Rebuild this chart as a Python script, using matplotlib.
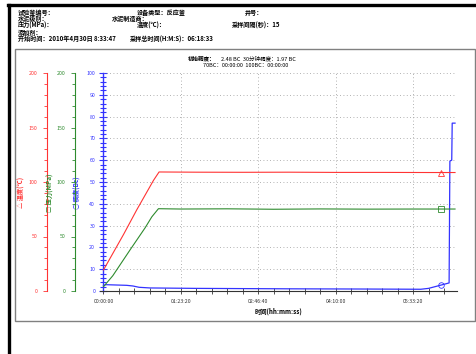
import numpy as np
import matplotlib
matplotlib.use("Agg")
import matplotlib.pyplot as plt
from matplotlib.ticker import MultipleLocator, FuncFormatter
from matplotlib.lines import Line2D
from matplotlib.patches import Rectangle

plt.rcParams['font.family'] = ['Noto Sans CJK SC', 'DejaVu Sans']
plt.rcParams['axes.unicode_minus'] = False

# time in seconds since start
temp_t = [0, 1300, 2150, 3230, 3590, 6000, 9000, 12000, 15000, 18000, 21000, 22713]
temp_v = [19.3, 52.0, 74.5, 101.5, 109.2, 109.0, 108.9, 109.0, 108.8, 108.8, 108.7, 108.7]

pres_t = [0, 600, 1730, 2690, 3120, 3550, 5000, 8000, 11000, 14000, 17000, 20000, 22713]
pres_v = [4, 14, 38, 58, 68, 75.5, 75.2, 75.4, 75.0, 75.3, 75.1, 75.2, 75.2]

cons_t = [0, 150, 1500, 1900, 2300, 3000, 6000, 12000, 17000, 20500, 21000, 21800,
          22330, 22380, 22500, 22530, 22713]
cons_v = [2.48, 2.9, 2.6, 2.3, 1.7, 1.4, 1.2, 1.0, 0.9, 0.8, 1.2, 2.7,
          3.7, 59.6, 60.0, 77.0, 77.0]

mark_t = 21800

header = [
    ("试验釜编号：", 18, 13), ("设备类型：反应釜", 137, 13), ("井号：", 245, 13),
    ("水泥级别：", 18, 19), ("水泥制造商：", 112, 19),
    ("压力(MPa)：", 18, 25), ("温度(℃)：", 137, 25), ("采样间隔(秒)：15", 232, 25),
    ("添加剂：", 18, 32),
    ("开始时间：2010年4月30日 8:33:47", 18, 39), ("采样总时间(H:M:S)：06:18:33", 130, 39),
]

RED = '#ff3333'
GREEN = '#2e8b2e'
BLUE = '#3333ff'

W, H = 476, 354
fig = plt.figure(figsize=(W / 100, H / 100), dpi=100)

def fx(px):
    return px / W

def fy(py):
    return 1 - py / H

# frames
fig.add_artist(Line2D([fx(9), fx(9)], [0, fy(5)], color='black', lw=2.4))
fig.add_artist(Line2D([fx(8), 1], [fy(5), fy(5)], color='black', lw=2.4))
fig.add_artist(Rectangle((fx(15), fy(321)), fx(475) - fx(15), fy(49) - fy(321),
                         transform=fig.transFigure, fill=False, edgecolor='#808080', lw=1))

for s, x, y in header:
    fig.text(fx(x), fy(y), s, fontsize=4.4, fontweight='bold', va='center', ha='left')

ax = fig.add_axes([fx(100), fy(291), fx(457) - fx(100), fy(73) - fy(291)])
ax.patch.set_visible(False)
ax.set_xlim(-226, 22840)
ax.set_ylim(0, 100)

ax_r = ax.twinx()
ax_g = ax.twinx()
for a, col, pos in [(ax_r, RED, (47 - 100) / 357), (ax_g, GREEN, (75 - 100) / 357)]:
    a.set_ylim(0, 200)
    for sp in a.spines.values():
        sp.set_visible(False)
    a.spines['left'].set_visible(True)
    a.spines['left'].set_position(('axes', pos))
    a.spines['left'].set_color(col)
    a.yaxis.tick_left()
    a.yaxis.set_major_locator(MultipleLocator(50))
    a.yaxis.set_minor_locator(MultipleLocator(10))
    a.tick_params(axis='y', which='major', colors=col, labelsize=3.8, length=3, width=0.6, pad=4)
    a.tick_params(axis='y', which='minor', colors=col, length=2, width=0.6)
    a.patch.set_visible(False)

ax_r.set_ylabel('△ 温度(℃)', color=RED, fontsize=4.5, fontweight='bold')
ax_r.yaxis.set_label_position('left')
ax_r.yaxis.set_label_coords((25 - 100) / 357, 0.45)
ax_g.set_ylabel('□ 压力(MPa)', color=GREEN, fontsize=4.5, fontweight='bold')
ax_g.yaxis.set_label_position('left')
ax_g.yaxis.set_label_coords((54 - 100) / 357, 0.45)

# main (consistency) axis
for k in ['top', 'right']:
    ax.spines[k].set_visible(False)
ax.spines['left'].set_position(('data', 0))
ax.spines['left'].set_color(BLUE)
ax.spines['left'].set_linewidth(1.0)
ax.spines['bottom'].set_color('#333333')
ax.spines['bottom'].set_linewidth(0.8)
ax.yaxis.set_major_locator(MultipleLocator(10))
ax.yaxis.set_minor_locator(MultipleLocator(2))
ax.tick_params(axis='y', which='major', direction='inout', colors=BLUE, labelsize=3.8,
               length=6, width=0.8, pad=3)
ax.tick_params(axis='y', which='minor', direction='inout', color=BLUE, length=4, width=0.8)
ax.set_ylabel('○ 稠度(Bc)', color=BLUE, fontsize=4.5, fontweight='bold')
ax.yaxis.set_label_coords((81 - 100) / 357, 0.45)

ax.xaxis.set_major_locator(MultipleLocator(5000))
ax.xaxis.set_minor_locator(MultipleLocator(1000))
ax.xaxis.set_major_formatter(FuncFormatter(
    lambda v, p: '%02d:%02d:%02d' % (v // 3600, (v % 3600) // 60, v % 60)))
ax.tick_params(axis='x', which='major', direction='inout', colors='#333333', labelsize=3.8,
               length=5, width=0.6, pad=3)
ax.tick_params(axis='x', which='minor', direction='inout', color='#333333', length=4, width=0.6)
ax.set_xlabel('时间(hh:mm:ss)', fontsize=4.5, fontweight='bold', labelpad=3)

# grid
for t in range(5000, 22713, 5000):
    ax.plot([t, t], [0, 100], ls=(0, (1, 3)), color='#999999', lw=0.6)
for v in range(10, 101, 10):
    ax.plot([0, 22713], [v, v], ls=(0, (1, 3)), color='#999999', lw=0.6)

ax_r.plot(temp_t, temp_v, color=RED, lw=0.8)
ax_g.plot(pres_t, pres_v, color=GREEN, lw=0.8)
ax.plot(cons_t, cons_v, color=BLUE, lw=0.9)

ax_r.plot([mark_t], [np.interp(mark_t, temp_t, temp_v)], marker='^', mfc='none', mec=RED, ms=4, mew=0.6)
ax_g.plot([mark_t], [np.interp(mark_t, pres_t, pres_v)], marker='s', mfc='none', mec=GREEN, ms=4, mew=0.6)
ax.plot([mark_t], [np.interp(mark_t, cons_t, cons_v)], marker='o', mfc='none', mec=BLUE, ms=4, mew=0.6)

fig.text(fx(188), fy(59), '初始稠度：', fontsize=4.0, fontweight='bold', ha='left', va='center')
fig.text(fx(221), fy(59), '2.48 BC  30分钟稠度：1.97 BC', fontsize=4.0, ha='left', va='center')
fig.text(fx(203), fy(65.5), '70BC：00:00:00  100BC：00:00:00', fontsize=4.0, ha='left', va='center')

fig.savefig('out.png', dpi=100)
